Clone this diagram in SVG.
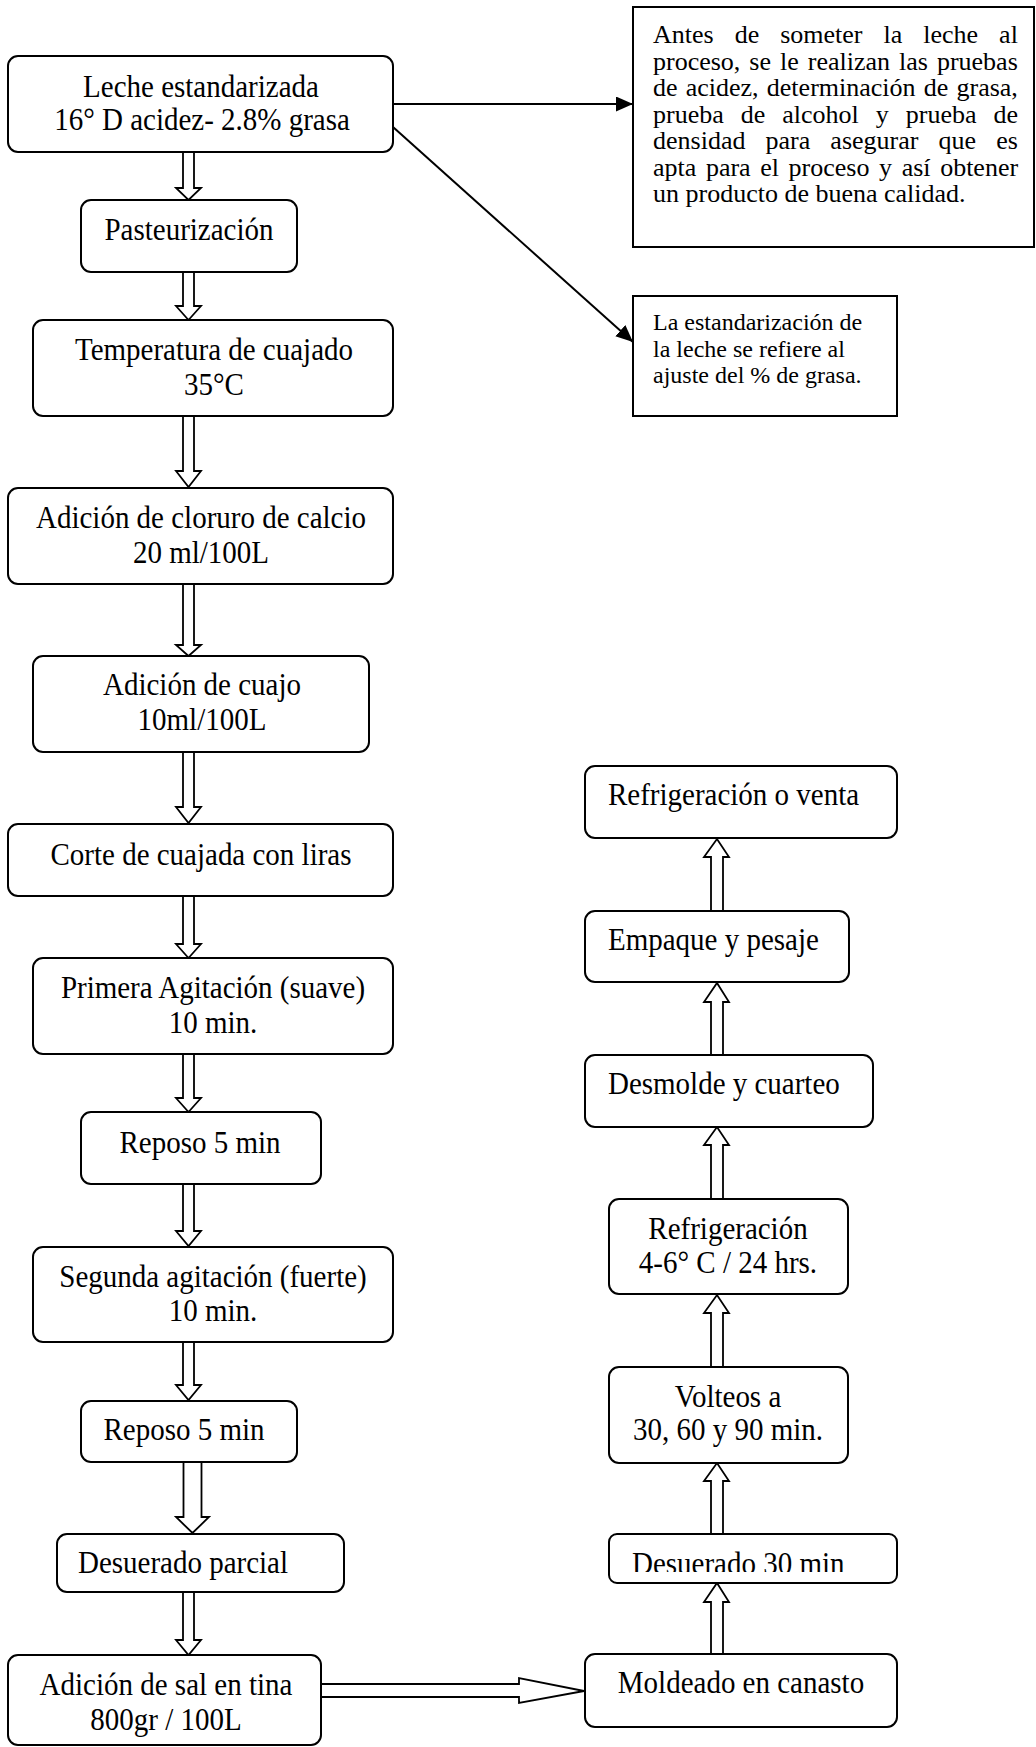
<svg xmlns="http://www.w3.org/2000/svg" width="1036" height="1747" viewBox="0 0 1036 1747">
<style>
.box{fill:#fff;stroke:#000;stroke-width:2}
.t{font-family:"Liberation Serif","Times New Roman",serif;font-size:29px;fill:#000}
.tc{text-anchor:middle}
.n{font-family:"Liberation Serif","Times New Roman",serif;font-size:26px;fill:#000}
.s{font-family:"Liberation Serif","Times New Roman",serif;font-size:24px;fill:#000}
.ba{fill:#fff;stroke:#000;stroke-width:1.8;stroke-linejoin:miter}
.ln{stroke:#000;stroke-width:2;fill:none}
</style>
<defs>
<marker id="ah" markerUnits="userSpaceOnUse" markerWidth="18" markerHeight="16" refX="17" refY="7.5" orient="auto">
<path d="M0,0 L17,7.5 L0,15 z" fill="#000"/>
</marker>
<clipPath id="clipD30"><rect x="609" y="1534" width="288" height="38"/></clipPath>
</defs>
<rect width="1036" height="1747" fill="#fff"/>

<g id="connectors">
<line class="ln" x1="393" y1="104" x2="633" y2="104" marker-end="url(#ah)"/>
<line class="ln" x1="393" y1="127" x2="633" y2="342" marker-end="url(#ah)"/>
<polygon class="ba" points="183,152 194,152 194,188 201,188 188.5,200 176,188 183,188"/>
<polygon class="ba" points="183,272 194,272 194,306 201,306 188.5,320 176,306 183,306"/>
<polygon class="ba" points="183,416 194,416 194,471 201,471 188.5,487 176,471 183,471"/>
<polygon class="ba" points="183,584 194,584 194,645 201,645 188.5,656 176,645 183,645"/>
<polygon class="ba" points="183,752 194,752 194,807 201,807 188.5,823 176,807 183,807"/>
<polygon class="ba" points="183,896 194,896 194,944 201,944 188.5,958 176,944 183,944"/>
<polygon class="ba" points="183,1054 194,1054 194,1098 201,1098 188.5,1112 176,1098 183,1098"/>
<polygon class="ba" points="183,1184 194,1184 194,1231 201,1231 188.5,1246 176,1231 183,1231"/>
<polygon class="ba" points="183,1342 194,1342 194,1385 201,1385 188.5,1400 176,1385 183,1385"/>
<polygon class="ba" points="183.5,1462 201.5,1462 201.5,1517 209,1517 192.5,1533 176,1517 183.5,1517"/>
<polygon class="ba" points="183,1592 194,1592 194,1640 201,1640 188.5,1655 176,1640 183,1640"/>
<polygon class="ba" points="321,1684 519,1684 519,1678 584,1691 519,1703 519,1697 321,1697"/>
<polygon class="ba" points="711,1654 711,1602 704,1602 717,1583 729,1602 723,1602 723,1654"/>
<polygon class="ba" points="711,1534 711,1481 704,1481 717,1463 729,1481 723,1481 723,1534"/>
<polygon class="ba" points="711,1367 711,1313 704,1313 717,1295 729,1313 723,1313 723,1367"/>
<polygon class="ba" points="711,1199 711,1145 704,1145 717,1127 729,1145 723,1145 723,1199"/>
<polygon class="ba" points="711,1055 711,1002 704,1002 717,983 729,1002 723,1002 723,1055"/>
<polygon class="ba" points="711,911 711,857 704,857 717,839 729,857 723,857 723,911"/>
</g>

<g id="n1"><rect class="box" x="8" y="56" width="385" height="96" rx="10"/>
<text class="t tc" transform="translate(0,97) scale(1,1.07)" x="201" y="0">Leche estandarizada</text>
<text class="t tc" transform="translate(0,130) scale(1,1.07)" x="202" y="0">16° D acidez- 2.8% grasa</text></g>

<g id="n2"><rect class="box" x="81" y="200" width="216" height="72" rx="10"/>
<text class="t tc" transform="translate(0,240) scale(1,1.07)" x="189" y="0">Pasteurización</text></g>

<g id="n3"><rect class="box" x="33" y="320" width="360" height="96" rx="10"/>
<text class="t tc" transform="translate(0,360) scale(1,1.07)" x="214" y="0">Temperatura de cuajado</text>
<text class="t tc" transform="translate(0,395) scale(1,1.07)" x="214" y="0">35°C</text></g>

<g id="n4"><rect class="box" x="8" y="488" width="385" height="96" rx="10"/>
<text class="t tc" transform="translate(0,528) scale(1,1.07)" x="201" y="0">Adición de cloruro de calcio</text>
<text class="t tc" transform="translate(0,563) scale(1,1.07)" x="201" y="0">20 ml/100L</text></g>

<g id="n5"><rect class="box" x="33" y="656" width="336" height="96" rx="10"/>
<text class="t tc" transform="translate(0,695) scale(1,1.07)" x="202" y="0">Adición de cuajo</text>
<text class="t tc" transform="translate(0,730) scale(1,1.07)" x="202" y="0">10ml/100L</text></g>

<g id="n6"><rect class="box" x="8" y="824" width="385" height="72" rx="10"/>
<text class="t tc" transform="translate(0,865) scale(1,1.07)" x="201" y="0">Corte de cuajada con liras</text></g>

<g id="n7"><rect class="box" x="33" y="958" width="360" height="96" rx="10"/>
<text class="t tc" transform="translate(0,998) scale(1,1.07)" x="213" y="0">Primera Agitación (suave)</text>
<text class="t tc" transform="translate(0,1033) scale(1,1.07)" x="213" y="0">10 min.</text></g>

<g id="n8"><rect class="box" x="81" y="1112" width="240" height="72" rx="10"/>
<text class="t tc" transform="translate(0,1153) scale(1,1.07)" x="200" y="0">Reposo 5 min</text></g>

<g id="n9"><rect class="box" x="33" y="1247" width="360" height="95" rx="10"/>
<text class="t tc" transform="translate(0,1287) scale(1,1.07)" x="213" y="0">Segunda agitación (fuerte)</text>
<text class="t tc" transform="translate(0,1321) scale(1,1.07)" x="213" y="0">10 min.</text></g>

<g id="n10"><rect class="box" x="81" y="1401" width="216" height="61" rx="10"/>
<text class="t tc" transform="translate(0,1440) scale(1,1.07)" x="184" y="0">Reposo 5 min</text></g>

<g id="n11"><rect class="box" x="57" y="1534" width="287" height="58" rx="10"/>
<text class="t" transform="translate(0,1573) scale(1,1.07)" x="78" y="0">Desuerado parcial</text></g>

<g id="n12"><rect class="box" x="8" y="1655" width="313" height="90" rx="10"/>
<text class="t tc" transform="translate(0,1695) scale(1,1.07)" x="166" y="0">Adición de sal en tina</text>
<text class="t tc" transform="translate(0,1730) scale(1,1.07)" x="166" y="0">800gr / 100L</text></g>

<g id="n13"><rect class="box" x="585" y="1654" width="312" height="73" rx="10"/>
<text class="t tc" transform="translate(0,1693) scale(1,1.07)" x="741" y="0">Moldeado en canasto</text></g>

<g id="n14"><rect class="box" x="609" y="1534" width="288" height="49" rx="8"/>
<g clip-path="url(#clipD30)"><text class="t" transform="translate(0,1573.5) scale(1,1.07)" x="632" y="0">Desuerado 30 min</text></g></g>

<g id="n15"><rect class="box" x="609" y="1367" width="239" height="96" rx="10"/>
<text class="t tc" transform="translate(0,1407) scale(1,1.07)" x="728" y="0">Volteos a</text>
<text class="t tc" transform="translate(0,1440) scale(1,1.07)" x="728" y="0">30, 60 y 90 min.</text></g>

<g id="n16"><rect class="box" x="609" y="1199" width="239" height="95" rx="10"/>
<text class="t tc" transform="translate(0,1239) scale(1,1.07)" x="728" y="0">Refrigeración</text>
<text class="t tc" transform="translate(0,1273) scale(1,1.07)" x="728" y="0">4-6° C / 24 hrs.</text></g>

<g id="n17"><rect class="box" x="585" y="1055" width="288" height="72" rx="10"/>
<text class="t" transform="translate(0,1094) scale(1,1.07)" x="608" y="0">Desmolde y cuarteo</text></g>

<g id="n18"><rect class="box" x="585" y="911" width="264" height="71" rx="10"/>
<text class="t" transform="translate(0,950) scale(1,1.07)" x="608" y="0">Empaque y pesaje</text></g>

<g id="n19"><rect class="box" x="585" y="766" width="312" height="72" rx="10"/>
<text class="t" transform="translate(0,805) scale(1,1.07)" x="608" y="0">Refrigeración o venta</text></g>

<g id="n20"><rect class="box" x="633" y="7" width="401" height="240"/>
<text class="n" x="653" y="43" word-spacing="14.5">Antes de someter la leche al</text>
<text class="n" x="653" y="69.5" word-spacing="2.5">proceso, se le realizan las pruebas</text>
<text class="n" x="653" y="96" word-spacing="1.7">de acidez, determinación de grasa,</text>
<text class="n" x="653" y="122.5" word-spacing="10.5">prueba de alcohol y prueba de</text>
<text class="n" x="653" y="149" word-spacing="13.6">densidad para asegurar que es</text>
<text class="n" x="653" y="175.5" word-spacing="3.1">apta para el proceso y así obtener</text>
<text class="n" x="653" y="202">un producto de buena calidad.</text></g>

<g id="n21"><rect class="box" x="633" y="296" width="264" height="120"/>
<text class="s" x="653" y="330">La estandarización de</text>
<text class="s" x="653" y="356.5">la leche se refiere al</text>
<text class="s" x="653" y="383">ajuste del % de grasa.</text></g>
</svg>
